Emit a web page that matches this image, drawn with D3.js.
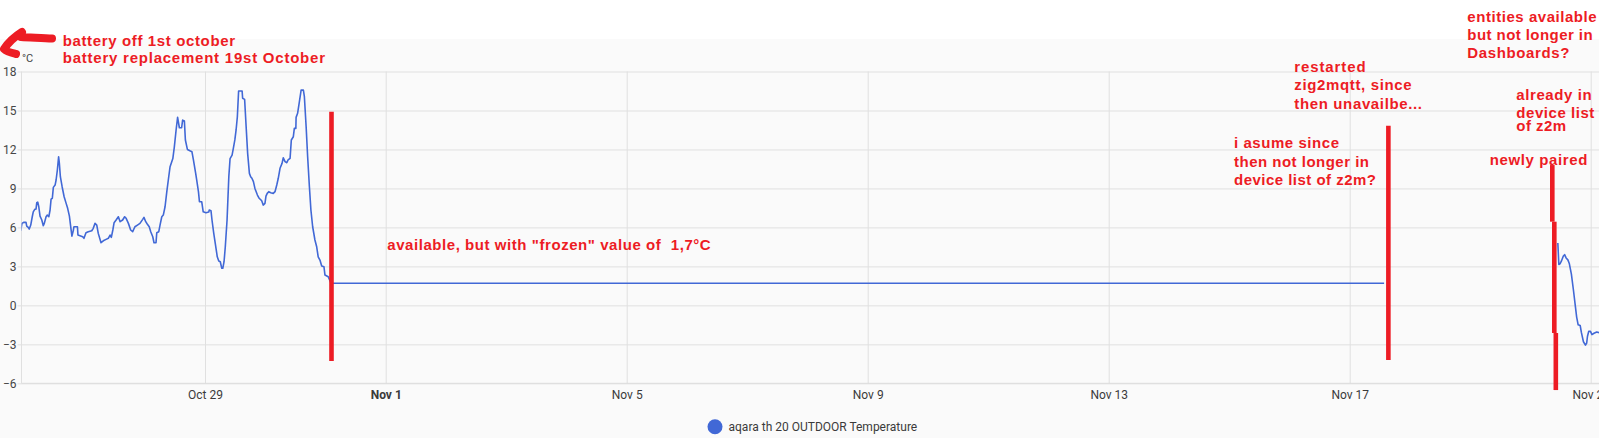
<!DOCTYPE html>
<html><head><meta charset="utf-8">
<script src="https://cdn.jsdelivr.net/npm/d3@7"></script>
<style>
body{margin:0;background:#fff;overflow:hidden}
svg{display:block}
</style>
</head><body>
<svg id="c" width="1599" height="438"></svg>
<script>
// ---------- data ----------
const baseTime = "2023-10-26T00:00:00Z";           // hours below are counted from here
const domainStart = "2023-10-25T22:55:00Z";
const domainEnd = "2023-11-21T03:18:00Z";
const seriesName = "aqara th 20 OUTDOOR Temperature";
const unit = "°C";

const hours1 = [-1.4,-0.9,-0.1,0.7,1.0,1.6,2.0,2.6,3.2,3.6,
 4.2,4.7,5.0,5.4,5.8,6.3,7.0,7.6,8.0,8.7,
 9.2,9.8,10.3,10.7,11.2,11.6,12.3,12.7,13.2,13.7,
 14.0,14.4,15.1,15.9,16.7,17.3,18.0,18.6,19.0,19.6,
 19.8,21.2,21.4,22.2,23.3,23.8,24.6,25.5,26.9,27.5,
 28.2,28.9,29.5,30.6,31.5,32.6,33.5,34.2,34.7,35.3,
 35.8,36.6,37.5,38.2,39.2,40.0,40.6,41.5,42.4,43.2,
 44.1,45.1,46.1,47.2,47.7,48.4,49.0,49.8,50.4,51.2,
 51.7,52.5,52.8,53.6,54.1,54.8,55.4,56.1,56.8,57.4,
 58.1,59.2,59.8,60.5,61.1,61.8,62.7,63.1,63.8,64.2,
 65.0,66.0,66.8,67.4,68.3,68.7,69.4,69.8,70.7,71.3,
 72.4,73.5,73.7,74.4,74.8,75.5,76.1,76.9,77.5,78.1,
 78.7,79.1,79.6,80.1,80.8,81.5,82.0,82.8,83.3,83.9,
 84.4,84.9,85.4,86.2,86.8,87.0,87.8,88.4,89.0,89.7,
 90.2,90.7,91.3,91.9,92.9,93.6,94.6,95.2,95.9,96.3,
 96.8,97.4,98.2,99.2,99.9,100.6,101.2,101.9,102.7,103.2,
 103.9,104.6,105.1,105.9,106.4,107.2,107.6,108.2,108.3,108.9,
 109.6,110.3,111.2,111.6,112.3,112.9,113.6,114.2,114.9,115.8,
 116.5,117.1,117.8,118.5,119.4,119.8,121.1,
 122.2,541.7];
const temps1 = [5.74,6.31,6.39,6.4,6.1,6.0,5.87,6.18,6.82,7.2,
 7.39,7.41,7.9,7.95,7.59,6.87,6.57,6.13,6.31,6.82,
 6.95,6.82,7.34,8.18,8.24,9.08,9.26,9.65,10.42,11.44,
 10.93,9.9,9.13,8.36,7.85,7.47,6.87,5.93,5.33,5.8,
 6.05,6.05,5.41,5.36,5.28,5.16,5.59,5.67,5.74,5.93,
 6.31,6.18,5.54,4.82,4.97,5.08,5.16,5.41,5.23,5.8,
 6.36,6.57,6.82,6.44,6.57,6.82,6.7,6.31,5.8,5.67,
 6.05,6.18,6.31,6.62,6.77,6.44,6.26,6.05,5.67,5.28,
 4.82,4.82,5.59,5.67,6.18,6.82,6.95,7.59,8.75,9.65,
 10.67,11.3,12.2,13.5,14.47,13.67,13.67,14.26,14.19,12.73,
 12.0,11.9,11.83,11.19,10.16,9.65,8.75,7.98,7.98,7.2,
 7.13,7.18,7.34,7.28,6.57,5.54,4.77,3.74,3.41,3.36,
 2.85,2.85,3.36,4.51,6.57,9.9,11.3,11.57,12.08,12.73,
 13.5,14.52,16.5,16.5,16.5,15.94,15.85,13.75,11.7,10.16,
 9.9,9.78,9.52,9.0,8.49,8.24,8.05,7.72,7.85,8.41,
 8.62,8.75,8.67,8.62,8.75,9.26,9.78,10.55,10.93,11.36,
 11.06,10.98,11.19,11.31,12.73,12.98,13.62,13.62,14.47,14.78,
 15.67,16.57,16.57,16.06,13.75,11.44,9.13,7.34,6.05,5.03,
 4.51,3.74,3.49,3.03,2.97,2.33,2.2,
 1.7,1.7];

const hours2 = [610.9,611.3,611.8,612.3,613.1,613.6,614.2,614.9,615.5,616.3,
 617.1,617.9,618.4,619.0,619.8,620.3,621.1,621.9,622.4,622.7,
 623.2,623.9,624.5,625.3,626.4,627.3];
const temps2 = [4.8,3.15,3.2,3.4,3.8,3.9,3.65,3.5,3.2,2.4,
 1.2,-0.1,-0.9,-1.5,-1.55,-2.1,-2.8,-3.06,-2.9,-2.4,
 -2.0,-2.0,-2.25,-2.15,-2.05,-2.1];

const xTickDates = ["2023-10-29","2023-11-01","2023-11-05","2023-11-09","2023-11-13","2023-11-17","2023-11-21"];
const xTickLabels = ["Oct 29","Nov 1","Nov 5","Nov 9","Nov 13","Nov 17","Nov 21"];
const yTicks = [-6,-3,0,3,6,9,12,15,18];

// annotation red marker lines (hours from baseTime, temperature span)
const markerHours = [122.4, 543.4, 608.7, 609.5, 610.1];
const markerFrom  = [14.9, 13.83, 10.8, 6.44, -2.13];
const markerTo    = [-4.29, -4.2, 6.44, -2.13, -6.52];

// ---------- drawing ----------
(function () {
const W = 1599, H = 438;
const svg = d3.select("#c");
const base = new Date(baseTime).getTime();
const toDate = h => new Date(base + h * 3600e3);

svg.append("rect").attr("x",0).attr("y",0).attr("width",W).attr("height",H).attr("fill","#ffffff");
svg.append("rect").attr("x",0).attr("y",39).attr("width",W).attr("height",H-39).attr("fill","#fafafa");

const pLeft = 21.5, pRight = W, pTop = 71.5, pBottom = 383.3;
const x = d3.scaleUtc().domain([new Date(domainStart), new Date(domainEnd)]).range([pLeft, pRight]);
const y = d3.scaleLinear().domain([-6, 18]).range([pBottom, pTop]);

const axisFont = "Roboto, 'Noto Sans', sans-serif";
const gridCol = "#e0e0e0";

// horizontal grid + y labels
const yAxis = d3.axisLeft(y).tickValues(yTicks).tickSize(0).tickFormat(d3.format("d"));
const gy = svg.append("g").attr("transform", `translate(${pLeft},0)`).call(yAxis);
gy.select(".domain").remove();
gy.selectAll(".tick line").attr("stroke", gridCol).attr("x1", -4).attr("x2", pRight - pLeft);
gy.selectAll(".tick text").attr("x", -5).attr("fill", "#464646")
  .style("font-family", axisFont).style("font-size", "12px");

// vertical grid + x labels
const xTicks = xTickDates.map(d => new Date(d + "T00:00:00Z"));
const xAxis = d3.axisBottom(x).tickValues(xTicks).tickSize(0).tickPadding(0)
  .tickFormat((d, i) => xTickLabels[i]);
const gx = svg.append("g").attr("transform", `translate(0,${pBottom})`).call(xAxis);
gx.select(".domain").remove();
gx.selectAll(".tick line").attr("y1", -(pBottom - pTop)).attr("y2", 0).attr("stroke", gridCol);
gx.selectAll(".tick text").attr("y", 16).attr("dy", "0").attr("fill", "#3a3a3a")
  .style("font-family", axisFont).style("font-size", "12px")
  .style("font-weight", (d, i) => xTickLabels[i] === "Nov 1" ? "bold" : "normal");

// axis lines
svg.append("line").attr("x1", pLeft).attr("x2", pLeft).attr("y1", pTop).attr("y2", pBottom).attr("stroke", gridCol);
svg.append("line").attr("x1", pLeft).attr("x2", pRight).attr("y1", pBottom).attr("y2", pBottom).attr("stroke", "#dcdcdc");

// unit label
svg.append("text").attr("x", 22).attr("y", 61.5).text(unit).attr("fill", "#464646")
  .style("font-family", axisFont).style("font-size", "11px");

// series
svg.append("clipPath").attr("id", "clip").append("rect")
  .attr("x", pLeft).attr("y", pTop - 10).attr("width", pRight - pLeft).attr("height", pBottom - pTop + 10);
const line = d3.line().x(d => x(toDate(d[0]))).y(d => y(d[1]));
const seriesColor = "#4168d6";
[[hours1, temps1], [hours2, temps2]].forEach(([hs, ts]) => {
  svg.append("path").datum(hs.map((h, i) => [h, ts[i]]))
    .attr("clip-path", "url(#clip)")
    .attr("d", line).attr("fill", "none").attr("stroke", seriesColor)
    .attr("stroke-width", 1.6).attr("stroke-linejoin", "round");
});

// legend
const lg = svg.append("g");
lg.append("circle").attr("cx", 715).attr("cy", 426.7).attr("r", 7.5).attr("fill", seriesColor);
lg.append("text").attr("x", 728.5).attr("y", 430.5).text(seriesName).attr("fill", "#3a3a3a")
  .style("font-family", axisFont).style("font-size", "12px");

// ---------- hand annotations ----------
const red = "#ed1c24";
markerHours.forEach((h, i) => {
  svg.append("line")
    .attr("x1", x(toDate(h))).attr("x2", x(toDate(h)))
    .attr("y1", y(markerFrom[i])).attr("y2", y(markerTo[i]))
    .attr("stroke", red).attr("stroke-width", 4.6).attr("stroke-linecap", "butt");
});

// arrow
svg.append("path").attr("d", "M52,38.5 C44,38 30,37.5 21,37 M22,32 C14,37 8,43 4,49 C7,52 12,53 16,54")
  .attr("fill", "none").attr("stroke", red).attr("stroke-width", 8)
  .attr("stroke-linecap", "round").attr("stroke-linejoin", "round");

const notes = [
  {x: 62.7, lines: [["battery off 1st october", 45.7, 172.3], ["battery replacement 19st October", 63.3, 262.3]]},
  {x: 387.3, lines: [["available, but with \"frozen\" value of  1,7°C", 250, 323.4]]},
  {x: 1294.3, lines: [["restarted", 72.3, 71.3], ["zig2mqtt, since", 90.3, 117.3], ["then unavailbe...", 108.7, 127.7]]},
  {x: 1234, lines: [["i asume since", 148.3, 105], ["then not longer in", 166.7, 135], ["device list of z2m?", 185, 142]]},
  {x: 1467.3, lines: [["entities available", 21.7, 129.3], ["but not longer in", 40, 125.3], ["Dashboards?", 58.3, 102]]},
  {x: 1516.3, lines: [["already in", 100, 75.3], ["device list", 117.7, 78], ["of z2m", 131, 49.7]]},
  {x: 1489.7, lines: [["newly paired", 165, 97.7]]}
];
notes.forEach(n => {
  n.lines.forEach(([t, by, w]) => {
    svg.append("text").attr("x", n.x).attr("y", by).text(t)
      .attr("fill", red).attr("textLength", w).attr("lengthAdjust", "spacing")
      .style("white-space", "pre")
      .style("font-family", "'Liberation Sans', Arial, sans-serif")
      .style("font-weight", "bold").style("font-size", "15px");
  });
});
})();
</script>
</body></html>
